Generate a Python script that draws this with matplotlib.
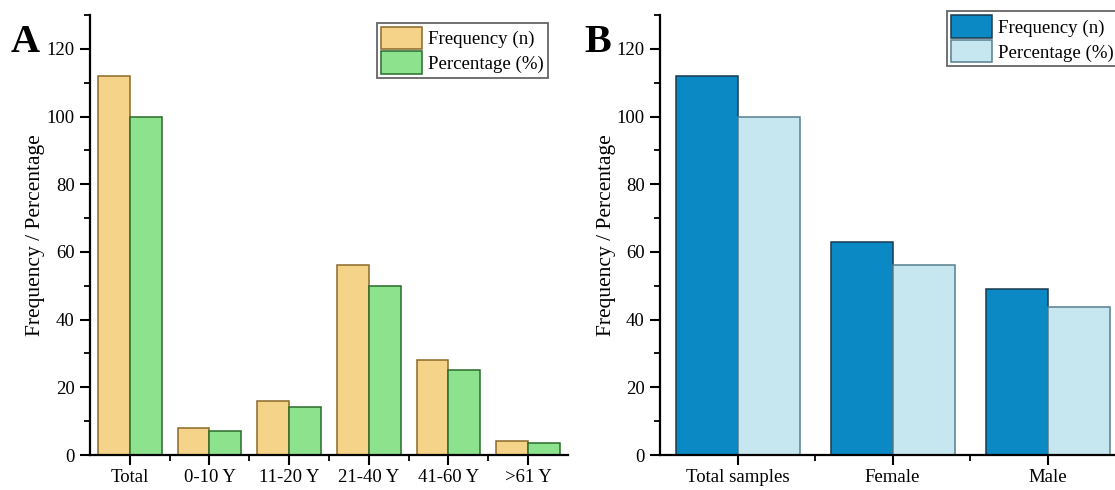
import numpy as np
import matplotlib
matplotlib.use("Agg")
import matplotlib.pyplot as plt
from matplotlib.ticker import MultipleLocator, FixedLocator

# ---- data ----
age_groups = ["Total", "0-10 Y", "11-20 Y", "21-40 Y", "41-60 Y", ">61 Y"]
age_freq = [112, 8, 16, 56, 28, 4]
age_pct = [100, 7.1, 14.3, 50, 25, 3.6]

sex_groups = ["Total samples", "Female", "Male"]
sex_freq = [112, 63, 49]
sex_pct = [100, 56.25, 43.75]

legend_labels = ["Frequency (n)", "Percentage (%)"]
y_label = "Frequency / Percentage"

plt.rcParams['font.family'] = ['Liberation Serif', 'DejaVu Serif']

W, H = 1115, 490
fig = plt.figure(figsize=(W / 100, H / 100), dpi=100)

def px_axes(left, right, top, bottom):
    return fig.add_axes([left / W, 1 - bottom / H, (right - left) / W, (bottom - top) / H])

axA = px_axes(90, 568, 15, 455)
axB = px_axes(660, 660 + 465, 15, 455)

def style(ax, cats, freq, pct, c_f, e_f, c_p, e_p, leg_xy):
    x = np.arange(len(cats))
    b1 = ax.bar(x - 0.2, freq, width=0.4, color=c_f, edgecolor=e_f, linewidth=1.1, zorder=2)
    b2 = ax.bar(x + 0.2, pct, width=0.4, color=c_p, edgecolor=e_p, linewidth=1.1, zorder=2)
    ax.set_xlim(-0.5, len(cats) - 0.5)
    ax.set_ylim(0, 130)
    ax.set_xticks(x)
    ax.set_xticklabels(cats, fontsize=13.5)
    ax.xaxis.set_minor_locator(FixedLocator(np.arange(0.5, len(cats) - 1, 1.0)))
    ax.set_yticks(np.arange(0, 121, 20))
    ax.yaxis.set_minor_locator(MultipleLocator(10))
    ax.tick_params(axis='both', which='major', direction='out', length=7, width=1.5,
                   labelsize=13.5, colors='black')
    ax.tick_params(axis='y', which='major', pad=4)
    ax.tick_params(axis='x', which='major', pad=3)
    ax.tick_params(axis='both', which='minor', direction='out', length=4, width=1.3)
    for s in ['top', 'right']:
        ax.spines[s].set_visible(False)
    for s in ['left', 'bottom']:
        ax.spines[s].set_linewidth(1.6)
    ax.set_ylabel(y_label, fontsize=15.5)
    ax.yaxis.set_label_coords(-0.094, 0.5)
    leg = fig.legend([b1, b2], legend_labels, loc='upper left',
                     bbox_to_anchor=leg_xy, bbox_transform=fig.transFigure,
                     fontsize=13.6, frameon=True, fancybox=False, framealpha=1,
                     handlelength=2.2, handleheight=1.45, labelspacing=0.12,
                     handletextpad=0.3, borderpad=0.2, borderaxespad=0)
    leg.get_frame().set_edgecolor('#666666')
    leg.get_frame().set_linewidth(1.3)
    return leg

style(axA, age_groups, age_freq, age_pct,
      '#F5D48A', '#8A6A2A', '#8DE38D', '#2A6A2A', (377 / W, 1 - 23 / H))
style(axB, sex_groups, sex_freq, sex_pct,
      '#0A89C5', '#1A3A4E', '#C6E7EF', '#55808E', (947 / W, 1 - 11.5 / H))

fig.text(25 / W, 1 - 42 / H, "A", fontsize=29, fontweight='bold', ha='center', va='center')
fig.text(598 / W, 1 - 42 / H, "B", fontsize=29, fontweight='bold', ha='center', va='center')

fig.savefig("out.png", dpi=100)
